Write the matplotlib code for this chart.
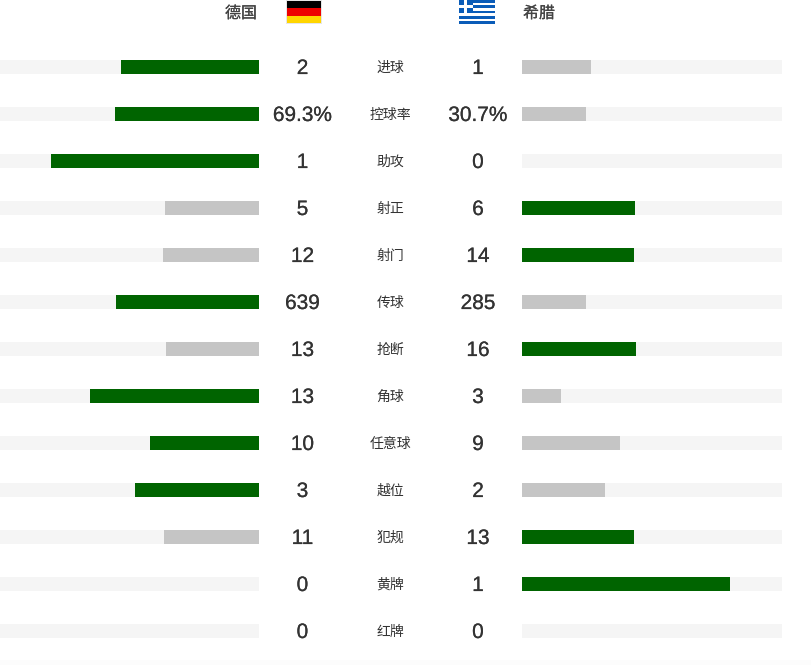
import matplotlib
matplotlib.use('Agg')
import matplotlib.pyplot as plt
from matplotlib.patches import Rectangle
import matplotlib.patheffects as pe

plt.rcParams['font.family'] = ['Liberation Sans', 'Noto Sans CJK SC']

home_team = '德国'
away_team = '希腊'
stats = ['进球', '控球率', '助攻', '射正', '射门', '传球', '抢断', '角球', '任意球', '越位', '犯规', '黄牌', '红牌']
home_labels = ['2', '69.3%', '1', '5', '12', '639', '13', '13', '10', '3', '11', '0', '0']
away_labels = ['1', '30.7%', '0', '6', '14', '285', '16', '3', '9', '2', '13', '1', '0']
# bar length as share of the track
home_share = [53.1, 55.4, 80.0, 36.2, 36.9, 55.0, 35.8, 65.0, 41.9, 47.7, 36.5, 0, 0]
away_share = [26.5, 24.6, 0, 43.5, 43.1, 24.6, 43.8, 15.0, 37.7, 31.9, 43.1, 80.0, 0]
home_won = [True, True, True, False, False, True, False, True, True, True, False, False, False]
away_won = [False, False, False, True, True, False, True, False, False, False, True, True, False]

GREEN = '#006400'
GREY = '#c5c5c5'
TRACK = '#f5f5f5'
TEXT = '#333333'

fig = plt.figure(figsize=(8.12, 6.65), dpi=100)
ax = fig.add_axes([0, 0, 1, 1])
ax.set_xlim(0, 812)
ax.set_ylim(665, 0)
ax.axis('off')

# slightly heavier text, the original is a medium weight
thick = [pe.withStroke(linewidth=0.15, foreground=TEXT)]

track_w = 260
for i, name in enumerate(stats):
    y = 67 + i * 47
    ax.add_patch(Rectangle((-1, y - 7), track_w, 14, color=TRACK, lw=0))
    ax.add_patch(Rectangle((522, y - 7), track_w, 14, color=TRACK, lw=0))
    w = home_share[i] / 100 * track_w
    ax.add_patch(Rectangle((259 - w, y - 7), w, 14, color=GREEN if home_won[i] else GREY, lw=0))
    w = away_share[i] / 100 * track_w
    ax.add_patch(Rectangle((522, y - 7), w, 14, color=GREEN if away_won[i] else GREY, lw=0))
    ax.text(302.5, y + 7, home_labels[i], ha='center', va='baseline', fontsize=15, color=TEXT, path_effects=thick)
    ax.text(478, y + 7, away_labels[i], ha='center', va='baseline', fontsize=15, color=TEXT, path_effects=thick)
    ax.text(390.5, y + 5, name, ha='center', va='baseline', fontsize=10, color=TEXT)

ax.text(241, 18, home_team, ha='center', va='baseline', fontsize=11.5, color='#444444', path_effects=thick)
ax.text(539, 18, away_team, ha='center', va='baseline', fontsize=11.5, color='#444444', path_effects=thick)

# german flag with its thin border
ax.add_patch(Rectangle((286, 0), 36, 24, color='#e6e6e6', lw=0))
for k, c in enumerate(['#000000', '#ee0000', '#ffd500']):
    ax.add_patch(Rectangle((287, 1 + k * 7.33), 34, 7.33, color=c, lw=0))

# greek flag
BLUE = '#0a5cb8'
for k in range(0, 9, 2):
    ax.add_patch(Rectangle((459, k * 2.67), 36, 2.67, color=BLUE, lw=0))
ax.add_patch(Rectangle((459, 0), 13.6, 13.3, color=BLUE, lw=0))
ax.add_patch(Rectangle((464.3, 0), 2.6, 13.3, color='white', lw=0))
ax.add_patch(Rectangle((459, 5.4), 13.6, 2.6, color='white', lw=0))

# faint band along the bottom edge
ax.add_patch(Rectangle((0, 660), 812, 5, color='#fcfcfc', lw=0))

fig.savefig('out.png', dpi=100)
